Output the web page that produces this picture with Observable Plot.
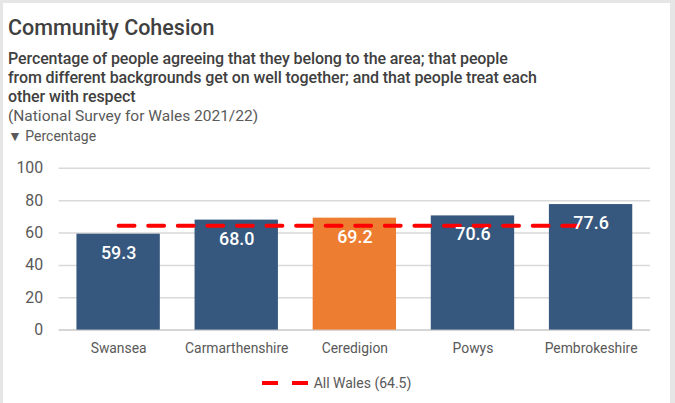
<!DOCTYPE html>
<html>
<head>
<meta charset="utf-8">
<script src="https://cdn.jsdelivr.net/npm/d3@7"></script>
<script src="https://cdn.jsdelivr.net/npm/@observablehq/plot@0.6"></script>
<style>
  html, body { margin: 0; padding: 0; background: #e6e6e6; }
  body { width: 675px; height: 403px; position: relative; overflow: hidden; font-family: Roboto, "Noto Sans", sans-serif; }
  #card { position: absolute; left: 3px; top: 3px; width: 667px; height: 400px; background: #fff; }
  .t { position: absolute; left: 5px; white-space: nowrap; color: #595959; }
  #title { top: 12px; font-size: 21.5px; font-weight: 500; color: #404040; }
  #sub { top: 46px; font-size: 16px; font-weight: 500; line-height: 19px; color: #404040; letter-spacing: -0.1px; }
  #src { top: 104px; font-size: 15.5px; }
  #unit { top: 125px; font-size: 14px; }
  #chart { position: absolute; left: -3px; top: 142px; }
  #legend { position: absolute; left: 0; width: 667px; top: 372px; text-align: center; font-size: 14px; color: #595959; }
  #legend svg { vertical-align: middle; margin-right: 6px; position: relative; top: -1px; }
</style>
</head>
<body>
<div id="card">
  <div class="t" id="title">Community Cohesion</div>
  <div class="t" id="sub">Percentage of people agreeing that they belong to the area; that people<br>from different backgrounds get on well together; and that people treat each<br>other with respect</div>
  <div class="t" id="src">(National Survey for Wales 2021/22)</div>
  <div class="t" id="unit">▼ Percentage</div>
  <div id="chart"></div>
  <div id="legend"><svg width="46" height="8"><line x1="0" x2="46" y1="4" y2="4" stroke="#ff0000" stroke-width="4" stroke-dasharray="16,14"></line></svg>All Wales (64.5)</div>
</div>
<script>
const areas = ["Swansea", "Carmarthenshire", "Ceredigion", "Powys", "Pembrokeshire"];
const values = [59.3, 68.0, 69.2, 70.6, 77.6];
const highlight = "Ceredigion";
const walesAverage = 64.5;
const yTicks = [0, 20, 40, 60, 80, 100];

const data = areas.map((a, i) => ({area: a, value: values[i]}));
const avgData = areas.map(a => ({area: a, value: walesAverage}));

const chart = Plot.plot({
  width: 675,
  height: 228,
  marginTop: 23,
  marginBottom: 42,
  marginLeft: 59,
  marginRight: 20,
  style: { fontFamily: "Roboto, 'Noto Sans', sans-serif", color: "#595959", background: "transparent" },
  x: { domain: areas, paddingInner: 0.29, paddingOuter: 0.143, label: null, tickSize: 0, tickPadding: 13 },
  y: { domain: [0, 100], ticks: yTicks, label: null, tickSize: 0, tickPadding: 16 },
  marks: [
    Plot.gridY(yTicks.filter(d => d > 0), { stroke: "#d9d9d9", strokeOpacity: 1, strokeWidth: 1.5 }),
    Plot.ruleY([0], { stroke: "#c8c8c8", strokeWidth: 1.5 }),
    Plot.barY(data, { x: "area", y: "value", fill: d => d.area === highlight ? "#ed7d31" : "#36587e" }),
    Plot.lineY(avgData, { x: "area", y: "value", stroke: "#ff0000", strokeWidth: 4, strokeDasharray: "16,13.8" }),
    Plot.text(data, { x: "area", y: "value", text: d => d.value.toFixed(1), dy: 19, fill: "white", fontSize: 18, fontWeight: 500 }),
    Plot.axisY({ ticks: yTicks, tickSize: 0, tickPadding: 16, fontSize: 16, label: null }),
    Plot.axisX({ tickSize: 0, tickPadding: 13, fontSize: 14, label: null })
  ]
});
document.getElementById("chart").appendChild(chart);
</script>
</body>
</html>
